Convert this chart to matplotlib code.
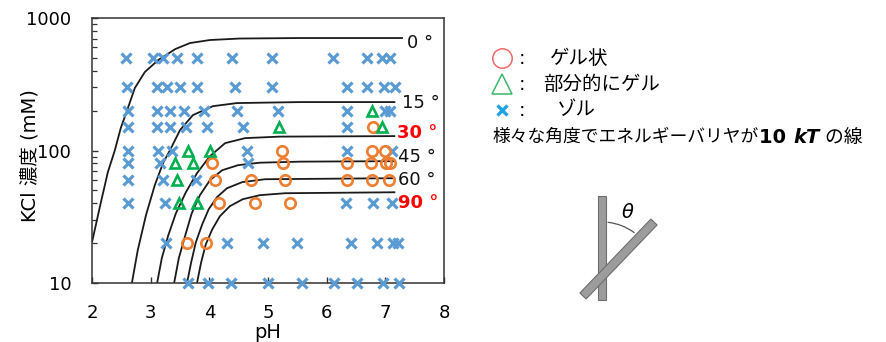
import matplotlib
matplotlib.use("Agg")
import matplotlib.pyplot as plt
from matplotlib.lines import Line2D
from matplotlib.patches import Polygon, Rectangle, Arc
import numpy as np

# Latin text in DejaVu Sans, Japanese glyphs fall back to Noto Sans CJK JP
FONTS = ["DejaVu Sans", "Noto Sans CJK JP"]
plt.rcParams["font.family"] = FONTS

# ---------------- data ----------------
kcl_rows = [500, 300, 200, 150, 100, 80, 60, 40, 20, 10]   # mM

# sol (x markers), pH values per KCl row
sol_ph_rows = [
    [2.58, 3.04, 3.21, 3.45, 3.79, 4.39, 5.07, 6.11, 6.69, 6.94, 7.08],
    [2.60, 3.11, 3.28, 3.50, 3.79, 4.44, 5.07, 6.34, 6.69, 6.98, 7.16],
    [2.61, 3.11, 3.33, 3.57, 3.91, 4.47, 5.17, 6.34, 7.00, 7.08],
    [2.61, 3.11, 3.33, 3.60, 3.96, 4.57, 6.34],
    [2.61, 3.13, 3.36, 4.64, 6.35, 7.11],
    [2.61, 3.16, 4.66],
    [2.61, 3.21, 3.77],
    [2.61, 3.24, 6.33, 6.79, 7.11],
    [3.26, 4.30, 4.91, 5.49, 6.41, 6.86, 7.13, 7.22],
    [3.64, 3.98, 4.37, 5.00, 5.58, 6.12, 6.52, 6.96, 7.23],
]
# gel (circles)
gel_ph_rows = [
    [], [], [],
    [6.79],
    [5.24, 6.77, 6.99],
    [4.05, 5.26, 6.35, 6.76, 7.01, 7.08],
    [4.10, 4.71, 5.29, 6.35, 6.77, 7.06],
    [4.16, 4.78, 5.37],
    [3.62, 3.94],
    [],
]
# partially gelled (triangles)
part_ph_rows = [
    [], [],
    [6.77],
    [5.19, 6.95],
    [3.64, 4.01],
    [3.41, 3.72],
    [3.45],
    [3.48, 3.79],
    [], [],
]

# 10 kT barrier lines for several crossing angles
angle_labels = ["0", "15", "30", "45", "60", "90"]
curve_ph = [
    [2.00, 2.14, 2.27, 2.39, 2.49, 2.60, 2.73, 2.90, 3.13, 3.42, 3.67, 4.01, 4.52, 5.55, 7.30],
    [2.68, 2.78, 2.92, 3.07, 3.21, 3.33, 3.50, 3.72, 4.06, 4.47, 5.55, 7.17],
    [3.11, 3.19, 3.30, 3.43, 3.60, 3.79, 4.01, 4.27, 4.61, 5.20, 7.17],
    [3.40, 3.48, 3.59, 3.70, 3.84, 4.01, 4.22, 4.49, 4.86, 5.55, 7.17],
    [3.62, 3.69, 3.77, 3.88, 3.99, 4.13, 4.30, 4.56, 4.95, 7.17],
    [3.79, 3.86, 3.94, 4.05, 4.18, 4.35, 4.57, 4.86, 5.29, 7.17],
]
curve_kcl = [
    [20.3, 38.6, 68.6, 100.6, 147.6, 201.8, 296, 391, 482, 583, 647, 682, 700, 706, 706],
    [10, 17.7, 32.5, 54.7, 80.2, 100.6, 142.5, 185, 216, 228, 232, 232],
    [10, 15.4, 22.9, 33.6, 48.4, 67.5, 90.6, 113.7, 124, 127.3, 128.4],
    [10, 15.4, 22.9, 33.6, 46.0, 59.7, 71.0, 77.5, 80.9, 82.4, 83.1],
    [10, 14.3, 20.3, 27.8, 36.1, 44.4, 51.9, 57.7, 60.7, 61.8],
    [10, 14.3, 19.6, 25.4, 31.9, 38.0, 42.9, 46.0, 47.6, 48.4],
]
label_red = [False, False, True, False, False, True]

x_ticks = [2, 3, 4, 5, 6, 7, 8]
y_ticks = [10, 100, 1000]

# where the angle labels sit (pH, KCl)
label_pos = [(7.37, 647), (7.28, 228), (7.20, 135), (7.22, 89), (7.22, 60.3), (7.22, 40)]


def flatten(rows):
    xs, ys = [], []
    for k, row in zip(kcl_rows, rows):
        xs += row
        ys += [k] * len(row)
    return xs, ys


# ---------------- figure ----------------
W, H = 887, 342
fig = plt.figure(figsize=(W / 100, H / 100), dpi=100)
ax = fig.add_axes([92 / W, 1 - 283 / H, (444 - 92) / W, (283 - 18) / H])

C_SOL = "#5B9BD5"
C_GEL = "#ED7D31"
C_PART = "#00B050"

for px, ky in zip(curve_ph, curve_kcl):
    ax.plot(px, ky, color="#1a1a1a", lw=1.3, zorder=2, solid_capstyle="butt")

xs, ys = flatten(sol_ph_rows)
ax.plot(xs, ys, ls="none", marker="x", ms=7.8, mew=2.3, color=C_SOL, zorder=3, clip_on=False)
xs, ys = flatten(gel_ph_rows)
ax.plot(xs, ys, ls="none", marker="o", ms=7.5, mew=1.9, mfc="none", mec=C_GEL, zorder=3)
xs, ys = flatten(part_ph_rows)
ax.plot(xs, ys, ls="none", marker="^", ms=7.5, mew=1.9, mfc="none", mec=C_PART, zorder=3)

for lab, (lx, ly), red in zip(angle_labels, label_pos, label_red):
    ax.text(lx, ly, lab + " °", fontsize=13, va="center", ha="left",
            color="#FF0000" if red else "#111111",
            fontweight="bold" if red else "normal", zorder=4)

ax.set_yscale("log")
ax.set_xlim(2, 8)
ax.set_ylim(10, 1000)
ax.set_xticks(x_ticks)
ax.set_xticklabels([str(v) for v in x_ticks])
ax.set_yticks(y_ticks)
ax.set_yticklabels([str(v) for v in y_ticks])
ax.tick_params(axis="both", which="major", direction="in", length=4.5, width=1.0,
               labelsize=13, pad=15, color="#333333")
ax.tick_params(axis="y", which="minor", direction="in", length=3.5, width=0.9, color="#333333")
ax.tick_params(axis="x", which="minor", bottom=False)
for s in ax.spines.values():
    s.set_linewidth(1.1)
    s.set_color("#333333")

ax.set_xlabel("pH", fontsize=14, labelpad=1)
ax.set_ylabel("KCl 濃度 (mM)", fontsize=14)
ax.yaxis.set_label_coords(-0.148, 0.48)

# ---------------- key on the right ----------------
def fx(p):
    return p / W

def fy(p):
    return 1 - p / H

keys = [
    ("o", "#EE6B6B", 14, 1.1, "ゲル状", 550, 58),
    ("^", "#3DB86B", 14, 1.1, "部分的にゲル", 543, 84),
    ("x", "#1FA2E6", 7, 2.4, "ゾル", 557, 110),
]
for mk, col, ms, mew, txt, tx, ty in keys:
    fig.add_artist(Line2D([fx(502)], [fy(ty)], ls="none", marker=mk, ms=ms, mew=mew,
                          mfc="none", mec=col, transform=fig.transFigure))
    fig.text(fx(519), fy(ty), ":", fontsize=14, va="center", ha="left")
    fig.text(fx(tx), fy(ty), txt, fontsize=14, va="center", ha="left")

fig.canvas.draw()
rend = fig.canvas.get_renderer()
parts = [
    ("様々な角度でエネルギーバリヤが", "normal", "normal", 12.8),
    ("10 ", "bold", "normal", 14),
    ("kT", "bold", "italic", 14),
    (" の線", "normal", "normal", 13.5),
]
cx = 493
for s, wgt, sty, fs in parts:
    t = fig.text(fx(cx), fy(137), s, fontsize=fs, va="center", ha="left",
                 fontweight=wgt, fontstyle=sty)
    bb = t.get_window_extent(rend)
    cx += bb.width

# ---------------- crossing rods sketch ----------------
ins = fig.add_axes([fx(560), fy(310), 130 / W, 130 / H])
ins.set_xlim(560, 690)
ins.set_ylim(32, 162)
ins.set_aspect("equal")
ins.axis("off")
rod_face = "#9c9c9c"
rod_edge = "#6e6e6e"
ins.add_patch(Rectangle((598, 42), 8, 104, facecolor=rod_face, edgecolor=rod_edge, lw=0.8))
p0 = np.array([583.0, 46.0])
p1 = np.array([654.0, 120.0])
d = (p1 - p0) / np.linalg.norm(p1 - p0)
nrm = np.array([-d[1], d[0]]) * 4.3
ins.add_patch(Polygon([p0 + nrm, p1 + nrm, p1 - nrm, p0 - nrm], closed=True,
                      facecolor=rod_face, edgecolor=rod_edge, lw=0.8))
ins.add_patch(Arc((602, 66), 108, 108, theta1=53, theta2=84, color="#555555", lw=0.9))
ins.text(628, 130, r"$\theta$", fontsize=14, ha="center", va="center")

fig.savefig("out.png", dpi=100)
